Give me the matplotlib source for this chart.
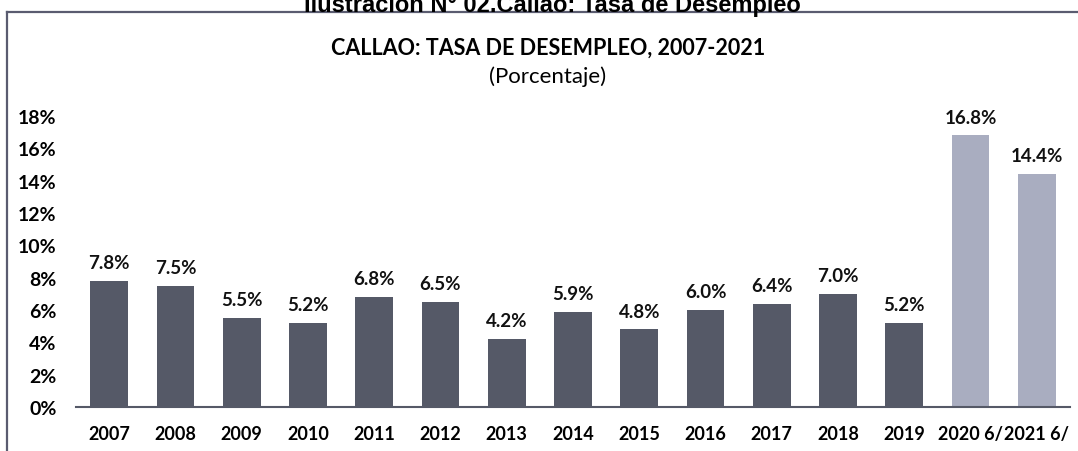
import matplotlib
matplotlib.use("Agg")
import matplotlib.pyplot as plt
from matplotlib.lines import Line2D

plt.rcParams['font.family'] = ['Lato', 'DejaVu Sans']

years = ['2007', '2008', '2009', '2010', '2011', '2012', '2013', '2014',
         '2015', '2016', '2017', '2018', '2019', '2020 6/', '2021 6/']
tasa = [7.8, 7.5, 5.5, 5.2, 6.8, 6.5, 4.2, 5.9, 4.8, 6.0, 6.4, 7.0, 5.2, 16.8, 14.4]
yticks = [0, 2, 4, 6, 8, 10, 12, 14, 16, 18]

dark = '#555967'
light = '#a9adc0'
colors = [dark] * 13 + [light] * 2

W, H = 1078, 452
fig = plt.figure(figsize=(W / 100, H / 100), dpi=100)
ax = fig.add_axes([76 / W, 1 - 408 / H, (1070 - 76) / W, (408 - 117) / H])

x = range(len(years))
ax.bar(x, tasa, width=0.57, color=colors)
for xi, v in zip(x, tasa):
    ax.text(xi, v + 0.6, f'{v:.1f}%', ha='center', va='bottom',
            fontsize=13.5, fontweight='bold', color='#111111')

ax.set_xlim(-0.5, len(years) - 0.5)
ax.set_ylim(0, 18)
ax.set_yticks(yticks)
ax.set_yticklabels([f'{t}%' for t in yticks], fontsize=14, fontweight='bold')
ax.set_xticks(list(x))
ax.set_xticklabels(years, fontsize=13, fontweight='bold')
ax.tick_params(axis='x', length=0, pad=13)
ax.tick_params(axis='y', length=0, pad=14)
for s in ['top', 'right', 'left']:
    ax.spines[s].set_visible(False)
ax.spines['bottom'].set_color('#555967')
ax.spines['bottom'].set_linewidth(1.5)

# outer frame, cut at the right and bottom edges
fig.add_artist(Line2D([7 / W, 7 / W], [1 - 13 / H, 0], color='#5a5c70', lw=1.6))
fig.add_artist(Line2D([7 / W, 1], [1 - 13 / H, 1 - 13 / H], color='#5a5c70', lw=1.6))

# heading of the page, partly above the figure edge
fig.text(552 / W, 1 - 12 / H, 'Ilustración N° 02.Callao: Tasa de Desempleo',
         ha='center', va='baseline', fontsize=17, fontweight='bold',
         family=['Liberation Sans', 'DejaVu Sans'])
fig.text(548 / W, 1 - 48 / H, 'CALLAO: TASA DE DESEMPLEO, 2007-2021',
         ha='center', va='center', fontsize=15.5, fontweight='bold')
fig.text(548 / W, 1 - 77 / H, '(Porcentaje)', ha='center', va='center', fontsize=16)

fig.savefig('out.png', dpi=100)
